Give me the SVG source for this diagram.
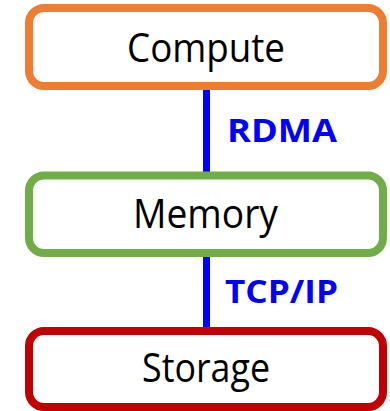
<svg xmlns="http://www.w3.org/2000/svg" width="390" height="411" viewBox="0 0 390 411">
  <style>
    .box { fill: #ffffff; stroke-width: 8; }
    .name { font-family: "Open Sans", "Noto Sans", sans-serif; font-size: 40px; fill: #000000; text-anchor: middle; }
    .link { stroke: #0000ff; stroke-width: 7; fill: none; }
    .proto { font-family: "Open Sans", "Noto Sans", sans-serif; font-size: 33px; font-weight: bold; fill: #0000ff; }
  </style>
  <rect width="390" height="411" fill="#ffffff"/>

  <!-- links between tiers -->
  <g id="connectors">
    <line class="link" x1="206.5" y1="88" x2="206.5" y2="174"/>
    <line class="link" x1="206.5" y1="255" x2="206.5" y2="329"/>
    <text class="proto" x="227" y="141.5" textLength="110" lengthAdjust="spacingAndGlyphs">RDMA</text>
    <text class="proto" x="225" y="303" textLength="113" lengthAdjust="spacingAndGlyphs">TCP/IP</text>
  </g>

  <g id="compute">
    <rect class="box" x="29" y="8" width="354" height="78" rx="15" stroke="#ed7d31"/>
    <text class="name" x="206" y="62" textLength="158" lengthAdjust="spacingAndGlyphs">Compute</text>
  </g>

  <g id="memory">
    <rect class="box" x="29" y="175.5" width="354" height="77.5" rx="15" stroke="#70ad47"/>
    <text class="name" x="205.5" y="228" textLength="145" lengthAdjust="spacingAndGlyphs">Memory</text>
  </g>

  <g id="storage">
    <rect class="box" x="29" y="331" width="354" height="76" rx="15" stroke="#c00000"/>
    <text class="name" x="206" y="382" textLength="128" lengthAdjust="spacingAndGlyphs">Storage</text>
  </g>
</svg>
